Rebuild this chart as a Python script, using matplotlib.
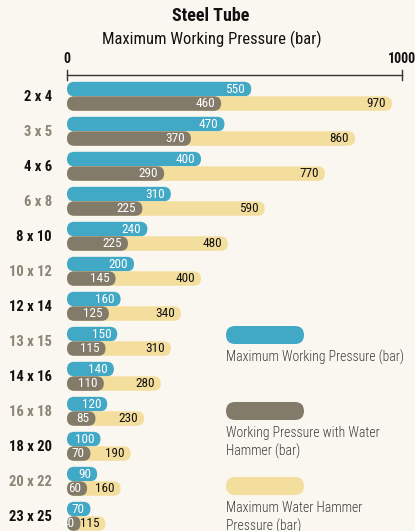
import matplotlib.pyplot as plt
from matplotlib.patches import FancyBboxPatch
from matplotlib import font_manager

sizes = ["2 x 4", "3 x 5", "4 x 6", "6 x 8", "8 x 10", "10 x 12", "12 x 14",
         "13 x 15", "14 x 16", "16 x 18", "18 x 20", "20 x 22", "23 x 25"]
max_working = [550, 470, 400, 310, 240, 200, 160, 150, 140, 120, 100, 90, 70]
working_hammer = [460, 370, 290, 225, 182, 145, 125, 115, 110, 85, 70, 60, 40]
hammer_text = ["460", "370", "290", "225", "225", "145", "125", "115", "110", "85", "70", "60", "40"]
max_hammer = [970, 860, 770, 590, 480, 400, 340, 310, 280, 230, 190, 160, 115]

BLUE = "#41a8c6"
GRAY = "#837b6a"
YELLOW = "#f4de9e"
BG = "#faf7f0"

names = set(f.name for f in font_manager.fontManager.ttflist)
narrow = "Liberation Sans"
for cand in ["Roboto Condensed", "Archivo Narrow", "Liberation Sans Narrow", "PT Sans Narrow"]:
    if cand in names:
        narrow = cand
        break
plt.rcParams['font.family'] = [narrow, 'DejaVu Sans']

W, H = 415, 531
fig = plt.figure(figsize=(W / 100, H / 100), dpi=100)
fig.patch.set_facecolor(BG)

# bars axes: x=0 at px 67, x=1000 at px 402
x0px, x1px = 67, 402
sx = (x1px - x0px) / 1000.0
row0, step = 96.3, 35.0
ax = fig.add_axes([0, 0, 1, 1])
ax.set_xlim(-x0px / sx, (W - x0px) / sx)
ax.set_ylim((H - row0) / step, -row0 / step)
ax.axis("off")
ax.patch.set_alpha(0)

asp = sx / step
bh = 14.5 / step
rad = 7.25 / sx


def bar(y, v, color):
    r = min(rad, v / 2)
    ax.add_patch(FancyBboxPatch((0, y - bh / 2), v, bh,
                                boxstyle=f"round,pad=0,rounding_size={r}",
                                mutation_aspect=asp, fc=color, ec="none"))


off = 6 / sx
for i, lab in enumerate(sizes):
    yb = i - 7.25 / step
    yg = i + 7.25 / step
    bar(yb, max_working[i], BLUE)
    bar(yg, max_hammer[i], YELLOW)
    bar(yg, working_hammer[i], GRAY)
    ax.text(max_working[i] - off, yb, str(max_working[i]), ha="right", va="center",
            color="white", fontsize=9.5)
    ax.text(working_hammer[i] - off, yg, hammer_text[i], ha="right", va="center",
            color="white", fontsize=9.5)
    ax.text(max_hammer[i] - off, yg, str(max_hammer[i]), ha="right", va="center",
            color="#111111", fontsize=9.5)
    ax.text(-15 / sx, i + 0.02, lab, ha="right", va="center", fontsize=10.5,
            fontweight="bold", color="#111111" if i % 2 == 0 else "#8c8474")

# top axis
ya = (75 - row0) / step
ax.plot([0, 1000], [ya, ya], color="#333333", lw=1)
for t in (0, 1000):
    ax.plot([t, t], [ya - 5 / step, ya + 5 / step], color="#333333", lw=1)
    ax.text(t, (59 - row0) / step, str(t), ha="center", va="center",
            fontsize=10, fontweight="bold", color="#111111")

# overlay in pixel coords for titles and legend
lax = fig.add_axes([0, 0, 1, 1])
lax.set_xlim(0, W)
lax.set_ylim(H, 0)
lax.axis("off")
lax.patch.set_alpha(0)

lax.text(211, 16, "Steel Tube", ha="center", va="center", fontsize=13,
         fontweight="bold", color="#111111")
lax.text(212, 39, "Maximum Working Pressure (bar)", ha="center", va="center",
         fontsize=12, color="#111111")

legend = [(BLUE, 326, "Maximum Working Pressure (bar)"),
          (GRAY, 402, "Working Pressure with Water\nHammer (bar)"),
          (YELLOW, 477, "Maximum Water Hammer\nPressure (bar)")]
for color, top, text in legend:
    lax.add_patch(FancyBboxPatch((226, top), 78, 18,
                                 boxstyle="round,pad=0,rounding_size=9",
                                 fc=color, ec="none"))
    lax.text(226, top + 24, text, ha="left", va="top", fontsize=9.8,
             fontweight="light", color="#3a3a3a", linespacing=1.3)

fig.savefig("out.png", dpi=100, facecolor=BG)
